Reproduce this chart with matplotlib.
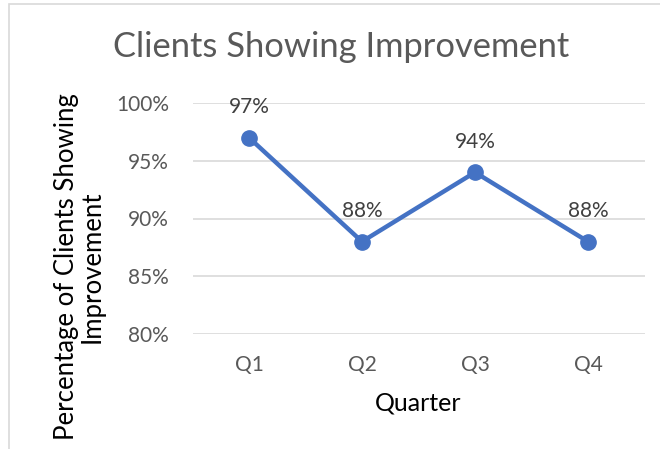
import matplotlib
matplotlib.use("Agg")
import matplotlib.pyplot as plt
from matplotlib.patches import Rectangle
from matplotlib.ticker import PercentFormatter

quarters = ["Q1", "Q2", "Q3", "Q4"]
improvement = [97, 88, 94, 88]
y_ticks = [80, 85, 90, 95, 100]

plt.rcParams['font.family'] = ['Lato', 'DejaVu Sans']

fig = plt.figure(figsize=(6.6, 4.49), dpi=100)
fig.patch.set_facecolor('white')

# chart border (only top and left edges visible in the crop)
fig.patches.append(Rectangle((9 / 660, -0.1), 1.2, 1 - 4 / 449 + 0.1,
                             transform=fig.transFigure, fill=False,
                             edgecolor='#D9D9D9', linewidth=1.2))

ax = fig.add_axes([192.5 / 660, 1 - 334 / 449, 452 / 660, 231 / 449])
x = range(len(quarters))
ax.plot(x, improvement, color='#4472C4', linewidth=3.2, marker='o',
        markersize=11, zorder=3)
for xi, v in zip(x, improvement):
    ax.annotate(f"{v}%", (xi, v), xytext=(0, 22), textcoords='offset points',
                ha='center', va='center', fontsize=15, color='#404040')

ax.set_xlim(-0.5, len(quarters) - 0.5)
ax.set_ylim(80, 100)
ax.set_yticks(y_ticks)
ax.yaxis.set_major_formatter(PercentFormatter(decimals=0))
ax.set_xticks(list(x))
ax.set_xticklabels(quarters)
ax.grid(axis='y', color='#D9D9D9', linewidth=1.2)
ax.set_axisbelow(True)
for s in ax.spines.values():
    s.set_visible(False)
ax.tick_params(length=0, labelsize=15, labelcolor='#595959')
ax.tick_params(axis='y', pad=17)
ax.tick_params(axis='x', pad=15)

ax.set_xlabel("Quarter", fontsize=18, color='black', va='center')
ax.xaxis.set_label_coords(0.5, -0.299)
ax.set_ylabel("Percentage of Clients Showing\nImprovement", fontsize=18.5,
              color='black', linespacing=1.05, va='center', ha='center')
ax.yaxis.set_label_coords(-0.25, 0.292)

fig.text(341 / 660, 1 - 47 / 449, "Clients Showing Improvement",
         ha='center', va='center', fontsize=24.8, color='#595959')

fig.savefig("out.png", dpi=100)
